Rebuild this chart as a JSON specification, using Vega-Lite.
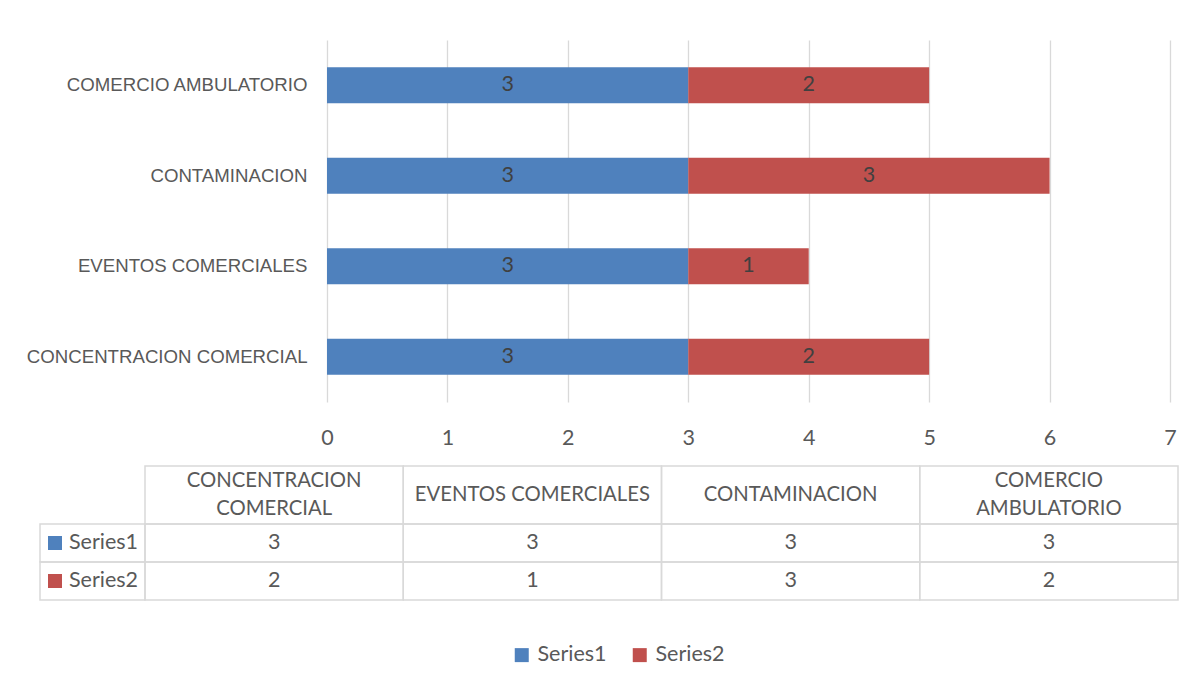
{
  "$schema": "https://vega.github.io/schema/vega-lite/v6.json",
  "background": "white",
  "padding": {"left": 26, "top": 40, "right": 0, "bottom": 0},
  "datasets": {
    "vals": [
      {"cat": "CONCENTRACION COMERCIAL", "series": "Series1", "value": 3},
      {"cat": "CONCENTRACION COMERCIAL", "series": "Series2", "value": 2},
      {"cat": "EVENTOS COMERCIALES", "series": "Series1", "value": 3},
      {"cat": "EVENTOS COMERCIALES", "series": "Series2", "value": 1},
      {"cat": "CONTAMINACION", "series": "Series1", "value": 3},
      {"cat": "CONTAMINACION", "series": "Series2", "value": 3},
      {"cat": "COMERCIO AMBULATORIO", "series": "Series1", "value": 3},
      {"cat": "COMERCIO AMBULATORIO", "series": "Series2", "value": 2}
    ],
    "headers": [
      {"cat": "CONCENTRACION COMERCIAL", "label": ["CONCENTRACION", "COMERCIAL"]},
      {"cat": "EVENTOS COMERCIALES", "label": "EVENTOS COMERCIALES"},
      {"cat": "CONTAMINACION", "label": "CONTAMINACION"},
      {"cat": "COMERCIO AMBULATORIO", "label": ["COMERCIO", "AMBULATORIO"]}
    ],
    "series": [{"series": "Series1"}, {"series": "Series2"}]
  },
  "config": {
    "view": {"stroke": null},
    "font": "Lato",
    "axis": {"labelFont": "Lato", "labelColor": "#595959"}
  },
  "columns": 2,
  "align": "none",
  "bounds": "flush",
  "spacing": 0,
  "concat": [
    {"width": 105, "height": 362, "data": {"values": []}, "mark": "text", "encoding": {}},
    {
      "width": 1033,
      "height": 362,
      "data": {"name": "vals"},
      "transform": [
        {"stack": "value", "groupby": ["cat"], "as": ["v0", "v1"], "sort": [{"field": "series", "order": "ascending"}]},
        {"calculate": "(datum.v0 + datum.v1) / 2", "as": "mid"}
      ],
      "encoding": {
        "y": {
          "field": "cat",
          "type": "nominal",
          "sort": ["COMERCIO AMBULATORIO", "CONTAMINACION", "EVENTOS COMERCIALES", "CONCENTRACION COMERCIAL"],
          "scale": {"paddingInner": 0.6, "paddingOuter": 0.3},
          "axis": {
            "title": null, "domain": false, "ticks": false, "grid": false, "offset": -182,
            "labelPadding": 20, "labelFont": "Liberation Sans", "labelFontSize": 18.65,
            "labelColor": "#595959", "labelLimit": 400
          }
        }
      },
      "layer": [
        {
          "mark": {"type": "bar"},
          "encoding": {
            "x": {
              "field": "v0", "type": "quantitative",
              "scale": {"domain": [0, 7], "nice": false, "zero": true, "range": [182, 1025]},
              "axis": {
                "title": null, "values": [0, 1, 2, 3, 4, 5, 6, 7], "format": "d", "domain": false, "ticks": false,
                "grid": true, "gridColor": "#d9d9d9", "gridWidth": 1.3,
                "labelFontSize": 21.5, "labelPadding": 25, "labelFlush": false, "labelOverlap": false
              }
            },
            "x2": {"field": "v1"},
            "color": {
              "field": "series", "type": "nominal",
              "scale": {"domain": ["Series1", "Series2"], "range": ["#4f81bd", "#c0504d"]},
              "legend": {
                "orient": "none", "legendX": 471, "legendY": 604, "direction": "horizontal",
                "title": null, "padding": 0, "symbolType": "square", "symbolSize": 196,
                "symbolStrokeWidth": 0, "labelFont": "Lato", "labelFontSize": 21.5,
                "labelColor": "#595959", "columnPadding": 22, "labelOffset": 5
              }
            }
          }
        },
        {
          "mark": {"type": "text", "font": "Lato", "fontSize": 21.5, "color": "#404040"},
          "encoding": {
            "x": {"field": "mid", "type": "quantitative"},
            "text": {"field": "value", "type": "quantitative"}
          }
        }
      ]
    },
    {"width": 105, "height": 64, "data": {"values": []}, "mark": "text", "encoding": {}},
    {"width": 1033, "height": 64, "data": {"values": []}, "mark": "text", "encoding": {}},
    {"width": 105, "height": 58, "data": {"values": []}, "mark": "text", "encoding": {}},
    {
      "width": 1033,
      "height": 58,
      "data": {"name": "headers"},
      "encoding": {
        "x": {"field": "cat", "type": "nominal", "sort": null, "scale": {"paddingInner": 0, "paddingOuter": 0}, "axis": null}
      },
      "layer": [
        {"mark": {"type": "rect", "fill": "transparent", "stroke": "#d9d9d9", "strokeWidth": 1.5}},
        {
          "transform": [{"filter": "isArray(datum.label)"}],
          "mark": {"type": "text", "font": "Lato", "fontSize": 20.3, "color": "#595959", "lineHeight": 28, "dy": -14},
          "encoding": {"text": {"field": "label"}}
        },
        {
          "transform": [{"filter": "!isArray(datum.label)"}],
          "mark": {"type": "text", "font": "Lato", "fontSize": 20.3, "color": "#595959"},
          "encoding": {"text": {"field": "label"}}
        }
      ]
    },
    {
      "width": 105,
      "height": 76,
      "data": {"name": "series"},
      "encoding": {
        "y": {"field": "series", "type": "nominal", "scale": {"paddingInner": 0, "paddingOuter": 0}, "axis": null}
      },
      "layer": [
        {"mark": {"type": "rect", "fill": "transparent", "stroke": "#d9d9d9", "strokeWidth": 1.5}},
        {
          "mark": {"type": "point", "shape": "square", "filled": true, "size": 196, "opacity": 1, "xOffset": -37.5},
          "encoding": {"color": {"field": "series", "type": "nominal"}}
        },
        {
          "mark": {"type": "text", "align": "left", "dx": -23.5, "font": "Lato", "fontSize": 21.5, "color": "#595959"},
          "encoding": {"text": {"field": "series", "type": "nominal"}}
        }
      ]
    },
    {
      "width": 1033,
      "height": 76,
      "data": {"name": "vals"},
      "encoding": {
        "x": {"field": "cat", "type": "nominal", "sort": null, "scale": {"paddingInner": 0, "paddingOuter": 0}, "axis": null},
        "y": {"field": "series", "type": "nominal", "scale": {"paddingInner": 0, "paddingOuter": 0}, "axis": null}
      },
      "layer": [
        {"mark": {"type": "rect", "fill": "transparent", "stroke": "#d9d9d9", "strokeWidth": 1.5}},
        {
          "mark": {"type": "text", "font": "Lato", "fontSize": 21.5, "color": "#595959"},
          "encoding": {"text": {"field": "value", "type": "quantitative"}}
        }
      ]
    }
  ]
}
